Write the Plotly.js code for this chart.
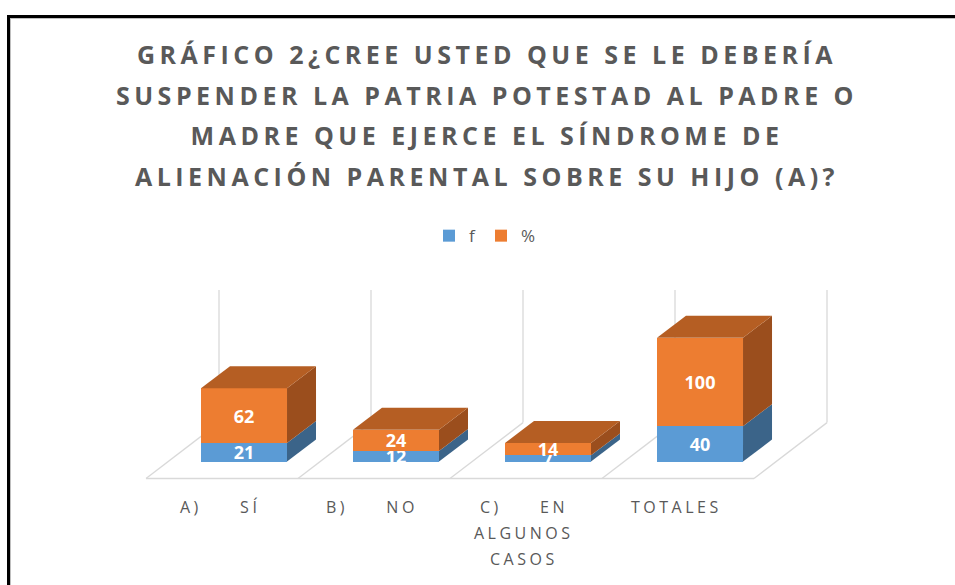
<!DOCTYPE html>
<html><head><meta charset="utf-8">
<script src="https://cdn.plot.ly/plotly-3.0.1.min.js"></script>
<style>
html,body{margin:0;padding:0;background:#fff;overflow:hidden;}
#chart{width:955px;height:585px;}
#frame{position:absolute;left:7px;top:15px;width:960px;height:600px;border-top:3px solid #000;border-left:3px solid #000;pointer-events:none;}
#frame2{position:absolute;left:10px;top:18px;width:960px;height:600px;border-top:1px solid #bfbfbf;border-left:1px solid #bfbfbf;pointer-events:none;}
.gtitle{letter-spacing:4.5px;}
.annotation-text{letter-spacing:3.5px;}
</style></head><body>
<div id="chart"></div><div id="frame"></div><div id="frame2"></div>
<script>
// ---- data ----
const categories = ["A)\u00a0\u00a0\u00a0\u00a0\u00a0SÍ", "B)\u00a0\u00a0\u00a0\u00a0\u00a0NO", "C)\u00a0\u00a0\u00a0\u00a0\u00a0EN<br>ALGUNOS<br>CASOS", "TOTALES"];
const seriesNames = ["f", "%"];
const fValues = [21, 12, 7, 40];
const pctValues = [62, 24, 14, 100];
const titleText = "GRÁFICO 2¿CREE USTED QUE SE LE DEBERÍA<br>SUSPENDER LA PATRIA POTESTAD AL PADRE O<br>MADRE QUE EJERCE EL SÍNDROME DE<br>ALIENACIÓN PARENTAL SOBRE SU HIJO (A)?";

// ---- geometry / style ----
const W = 955, H = 585;
const mL = 130, mR = 103, mT = 290;
const xRange = [-0.75, 4.0];
const yRange = [-22, 194];
const pxY = 0.886;
const plotH = pxY * (yRange[1] - yRange[0]);
const mB = H - mT - plotH;
const plotW = W - mL - mR;
const pxX = plotW / (xRange[1] - xRange[0]);
const bw = 0.566;
const ddx = 29 / pxX, ddy = 22 / pxY;          // bar depth
const fx = -22 / pxX, fy = -17 / pxY;          // floor front offset
const bx = 51 / pxX, by = 39 / pxY;            // floor back offset
const blue = "#5b9bd5", orange = "#ed7d31";
const blueSide = "#3b6489", orangeSide = "#9b4e1d", orangeTop = "#b55e23";
const grid = "#d9d9d9";
const xs = categories.map((c, i) => i);
const labelFont = {color: "#fff", size: 18, family: "Open Sans", weight: "bold"};

const traces = [
  {type: "bar", name: seriesNames[0], x: xs, y: fValues, width: bw,
   marker: {color: blue}, text: fValues.map(String), textposition: "inside", textangle: 0,
   insidetextanchor: "middle", constraintext: "none", textfont: labelFont, hoverinfo: "skip"},
  {type: "bar", name: seriesNames[1], x: xs, y: pctValues, width: bw,
   marker: {color: orange}, text: pctValues.map(String), textposition: "inside", textangle: 0,
   insidetextanchor: "middle", constraintext: "none", textfont: labelFont, hoverinfo: "skip"}
];

function face(xArr, yArr, color) {
  traces.push({type: "scatter", x: xArr, y: yArr, fill: "toself", fillcolor: color,
    mode: "lines", line: {width: 0, color: color}, showlegend: false, hoverinfo: "skip"});
}
xs.forEach((i) => {
  const xl = i - bw / 2, xr = i + bw / 2;
  const y1 = fValues[i], y2 = fValues[i] + pctValues[i];
  face([xr, xr, xr + ddx, xr + ddx], [0, y1, y1 + ddy, ddy], blueSide);
  face([xr, xr, xr + ddx, xr + ddx], [y1, y2, y2 + ddy, y1 + ddy], orangeSide);
  face([xl, xr, xr + ddx, xl + ddx], [y2, y2, y2 + ddy, y2 + ddy], orangeTop);
});

const shapes = [];
const bounds = [-0.5, 0.5, 1.5, 2.5, 3.5];
bounds.forEach(b => {
  shapes.push({type: "line", xref: "x", yref: "y", layer: "below",
    x0: b + fx, y0: fy, x1: b + bx, y1: by, line: {color: grid, width: 1.3}});
  shapes.push({type: "line", xref: "x", yref: "y", layer: "below",
    x0: b + bx, y0: by, x1: b + bx, y1: yRange[1], line: {color: grid, width: 1.3}});
});
shapes.push({type: "line", xref: "x", yref: "y", layer: "below",
  x0: bounds[0] + fx, y0: fy, x1: bounds[bounds.length - 1] + fx, y1: fy, line: {color: grid, width: 1.3}});

const annotations = [];
categories.forEach((c, i) => {
  c.split("<br>").forEach((line, k) => {
    annotations.push({text: line, x: i, y: 0, xref: "x", yref: "y", xshift: -24,
      yshift: -(45 + 26 * k), yanchor: "middle", xanchor: "center", showarrow: false,
      font: {family: "Open Sans", size: 16, color: "#595959"}});
  });
});

const layout = {
  width: W, height: H,
  margin: {l: mL, r: mR, t: mT, b: mB, pad: 0},
  paper_bgcolor: "#fff", plot_bgcolor: "rgba(0,0,0,0)",
  barmode: "stack",
  title: {text: titleText, xref: "container", x: 487 / W, yref: "container", y: 1 - 64 / H,
    xanchor: "center", yanchor: "top",
    font: {family: "Open Sans", size: 25, color: "#595959", weight: "bold"}},
  xaxis: {range: xRange, showgrid: false, zeroline: false, showticklabels: false, showline: false, fixedrange: true},
  yaxis: {range: yRange, showgrid: false, zeroline: false, showticklabels: false, showline: false, fixedrange: true},
  showlegend: true,
  legend: {orientation: "h", x: 0.5 - 6 / plotW, xanchor: "center", y: 1 + (mT - 236) / plotH, yanchor: "middle",
    font: {family: "Open Sans", size: 17, color: "#595959"}, itemwidth: 30, traceorder: "normal"},
  shapes: shapes,
  annotations: annotations
};

Plotly.newPlot("chart", traces, layout, {displayModeBar: false, staticPlot: true}).then(() => {
  document.querySelectorAll(".gtitle tspan.line").forEach((t, k) => {
    if (k > 0) t.setAttribute("dy", (k * 40.7 / 25) + "em");
  });
});
</script>
</body></html>
